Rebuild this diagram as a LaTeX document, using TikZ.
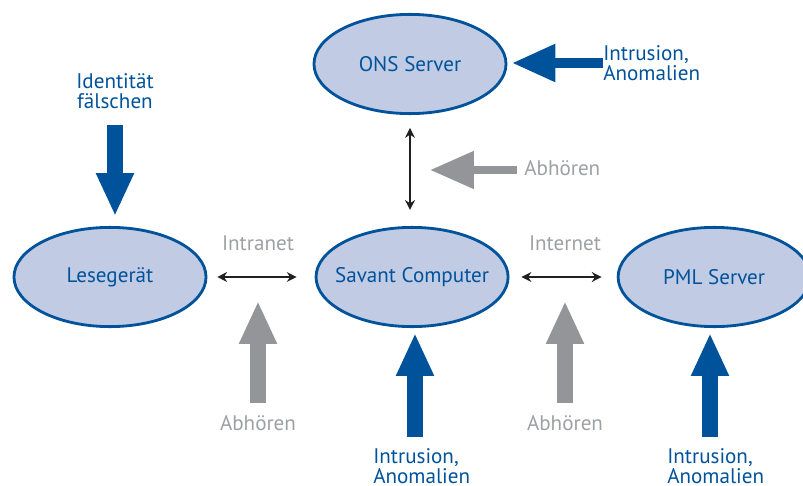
\documentclass[tikz,border=0pt]{standalone}
\usepackage{fontspec}
\setmainfont{PT Sans}
\usetikzlibrary{shapes.geometric, arrows.meta, positioning, calc}
\definecolor{rfidblue}{RGB}{0,83,155}
\definecolor{hostfill}{RGB}{194,203,228}
\definecolor{sniffgray}{RGB}{147,149,152}
\definecolor{labelgray}{RGB}{158,160,163}
\definecolor{linkblack}{RGB}{35,31,32}
\newcommand{\hostlbl}[1]{\makebox[2cm]{#1}}
\tikzstyle{host} = [ellipse, minimum width=4.8cm, minimum height=2.48cm, draw=rfidblue, fill=hostfill, line width=2pt, text=rfidblue, font=\fontsize{15}{16}\selectfont]
\tikzstyle{threat} = [text=rfidblue, align=left, inner sep=0pt, font=\fontsize{15}{14.3}\selectfont]
\tikzstyle{netlabel} = [text=labelgray, inner sep=0pt, font=\fontsize{15}{14.3}\selectfont]
\tikzstyle{link} = [linkblack, line width=1.1pt, {Stealth[length=7pt,width=7pt]}-{Stealth[length=7pt,width=7pt]}]
\tikzstyle{attack} = [rfidblue, line width=10.7pt, -{Triangle[width=24.9pt,length=30.6pt]}]
\tikzstyle{sniff} = [sniffgray, line width=10.7pt, -{Triangle[width=24.9pt,length=30.6pt]}]

\begin{document}
\begin{tikzpicture}[x=0.025cm, y=-0.025cm, on grid, node distance=7.55cm]
    \useasboundingbox (0,0) rectangle (803,486);
    % hosts
    \node[host] (lese) at (110,277) {\hostlbl{Lesegerät}};
    \node[host, right=of lese] (sav) {\hostlbl{Savant Computer}};
    \node[host, right=of sav] (pml) {\hostlbl{PML Server}};
    \node[host] (ons) at (410,64) {\hostlbl{ONS Server}};
    % network links
    \path[link]
    (lese) edge[shorten <=7pt, shorten >=12.8pt] (sav)
    (sav) edge[shorten <=8.5pt, shorten >=10.7pt] (pml)
    (ons.south) edge[shorten <=9.2pt, shorten >=11.4pt] (ons.south |- sav.north);
    \coordinate (intramid) at ($(lese)!0.5!(sav)$);
    \coordinate (intermid) at ($(sav)!0.5!(pml)$);
    \node[netlabel] (intranet) at (258,243) {Intranet};
    \node[netlabel] (internet) at (565,243) {Internet};
    % eavesdropping
    \node[netlabel] (sniffl) at (258,423) {Abhören};
    \node[netlabel] (sniffr) at (565,423) {Abhören};
    \node[netlabel, anchor=west] (sniffo) at (524,168) {Abhören};
    \coordinate (snifftl) at (258,403);
    \coordinate (snifftr) at (565,403);
    \coordinate (sniffto) at (517,170);
    \draw[sniff, shorten >=17pt] (snifftl) -- (snifftl |- intramid);
    \draw[sniff, shorten >=17pt] (snifftr) -- (snifftr |- intermid);
    \draw[sniff, line width=5.7pt, -{Triangle[width=25.6pt,length=31.3pt]}, shorten >=14.2pt] (sniffto) -- (sniffto -| ons.south);
    % attacks
    \node[threat, align=center] (ident) at (115,91) {Identität\\fälschen};
    \node[threat, anchor=west] (onsthreat) at (603,63) {Intrusion,\\Anomalien};
    \node[threat, anchor=west] (savthreat) at (373,466) {Intrusion,\\Anomalien};
    \node[threat, anchor=west] (pmlthreat) at (667,466) {Intrusion,\\Anomalien};
    \coordinate (identtail) at (115,125);
    \coordinate (savtail) at (415,437);
    \coordinate (pmltail) at (710,437);
    \draw[attack, shorten >=7pt] (identtail) -- (identtail |- lese.north);
    \draw[attack, shorten >=3.5pt] (savtail) -- (savtail |- sav.south);
    \draw[attack, shorten >=3.5pt] (pmltail) -- (pmltail |- pml.south);
    \draw[attack, line width=7.8pt, -{Triangle[width=24.9pt,length=31.3pt]}, shorten >=2.8pt] (onsthreat.west) -- (onsthreat.west -| ons.east);
\end{tikzpicture}
\end{document}
